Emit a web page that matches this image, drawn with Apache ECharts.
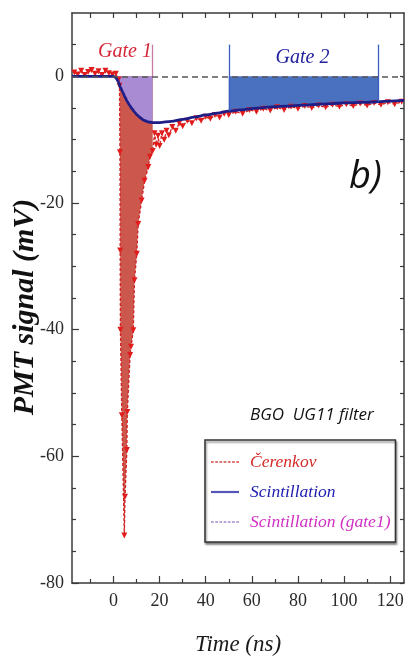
<!DOCTYPE html>
<html>
<head>
<meta charset="utf-8">
<script src="https://cdn.jsdelivr.net/npm/echarts@6/dist/echarts.min.js"></script>
<style>
  html, body { margin: 0; padding: 0; background: #ffffff; }
  #chart { width: 405px; height: 665px; }
</style>
</head>
<body>
<div id="chart"></div>
<script>
// ---- PMT waveform, BGO crystal with UG11 filter ----

// Čerenkov trace (time in ns, signal in mV)
const cerX = [-17, -15.5, -14, -12.5, -11, -9.5, -8, -6.5, -5, -3.5, -2, -0.5, 1, 2.2,
  2.6, 2.8, 2.9, 3.0, 3.6, 4.7, 5.0, 5.8, 6.0, 7.2, 7.6, 8.6, 9.1, 10.1, 10.7, 12.2, 13.5, 15.1, 15.8, 17.0,
  17.8, 18.5, 19.3, 20.0, 21.0, 22.0, 23.0, 24.0, 25.5, 27.0, 28.5, 30.0, 32, 34, 36, 38, 40, 42, 44, 46, 48,
  50, 53, 56, 59, 62, 65, 68, 71, 74, 77, 80, 83, 86, 89, 92, 95, 98, 101, 104, 107, 110, 113, 116, 119, 122, 125];
const cerY = [0.6, 0.3, 0.9, 0.2, 0.7, 1.0, 0.4, 0.8, 0.2, 0.9, 0.5, 0.3, 0.4, -0.5,
  -1.5, -12, -27.5, -40, -53.5, -72.5, -66.4, -59, -53, -44, -42.7, -40.1, -32.2, -28, -23.3, -19.6, -16.5, -14.3, -12.7, -11.8,
  -9.0, -10.8, -9.4, -11.0, -9.0, -10.0, -8.6, -9.3, -8.0, -8.6, -7.4, -7.9, -7.0, -7.4, -6.6, -7.0, -6.4, -6.7, -6.1, -6.5, -5.9,
  -6.1, -5.6, -5.9, -5.3, -5.6, -5.1, -5.4, -4.9, -5.3, -4.8, -5.1, -4.7, -5.0, -4.6, -4.9, -4.5, -4.8, -4.4, -4.7, -4.3, -4.6, -4.2, -4.5, -4.1, -4.4, -4.0];

// Scintillation component
const scintX = [-18, 0, 1, 2, 3, 4, 5, 6, 7, 8, 9, 10, 11, 12, 13, 14, 15, 16, 17, 18, 20, 25, 30, 35, 40, 45,
  50, 55, 60, 65, 70, 75, 80, 85, 90, 95, 100, 105, 110, 115, 120, 126];
const scintY = [0, 0, -0.2, -0.8, -1.7, -2.5, -3.3, -4.0, -4.6, -5.1, -5.6, -6.0, -6.35, -6.65, -6.9, -7.05, -7.2, -7.25, -7.3, -7.3, -7.3, -7.1, -6.8, -6.45, -6.1, -5.8,
  -5.5, -5.3, -5.1, -4.95, -4.8, -4.7, -4.6, -4.5, -4.4, -4.3, -4.2, -4.15, -4.1, -4.0, -3.9, -3.8];

// Integration gates (ns) and the height of their marker lines (mV)
const gate1 = [0, 17];
const gate2 = [50, 115];
const gateTop = 5;

// Axis ranges and tick values
const xRange = [-18, 126];
const yRange = [-80, 10];
const xMajorTicks = [0, 20, 40, 60, 80, 100, 120];
const xMinorTicks = [-10, 10, 30, 50, 70, 90, 110];
const yMajorTicks = [-80, -60, -40, -20, 0];
const yMinorTicks = [-75, -70, -65, -55, -50, -45, -35, -30, -25, -15, -10, -5, 5];

// ---- build series data ----
const cerData = cerX.map((x, i) => [x, cerY[i]]);
const scintData = scintX.map((x, i) => [x, scintY[i]]);
const inGate = (g) => (p) => p[0] >= g[0] && p[0] <= g[1];
const cerGate1 = cerData.filter(inGate(gate1)).map(p => [p[0], Math.min(p[1], 0)]);
const scintGate1 = scintData.filter(inGate(gate1));
const scintGate2 = scintData.filter(inGate(gate2));
const scintAt = (x) => scintY[scintX.indexOf(x)];

const AXIS = '#3a3a3a';
const SERIF = '"Liberation Serif", "Times New Roman", serif';

function dotted(n) {
  let d = 'path://';
  for (let i = 0; i < n; i++) d += 'M' + (i * 4) + ',0h2.6v1.6h-2.6z';
  return d;
}
const dottedIcon = dotted(7);
const solidIcon = 'path://M0,0h28v2.2h-28z';

const tickStyle = { color: AXIS, width: 1.2 };
const baseX = { type: 'value', min: xRange[0], max: xRange[1], splitLine: { show: false } };
const baseY = { type: 'value', min: yRange[0], max: yRange[1], splitLine: { show: false } };

const chart = echarts.init(document.getElementById('chart'), null, { renderer: 'canvas' });

chart.setOption({
  animation: false,
  backgroundColor: '#ffffff',
  grid: { left: 72, right: 1, top: 13, bottom: 82, containLabel: false, outerBoundsMode: 'none' },
  xAxis: [
    Object.assign({}, baseX, {
      position: 'bottom',
      axisLine: { show: true, onZero: false, lineStyle: { color: AXIS, width: 1.5 } },
      axisTick: { show: true, inside: true, length: 7, customValues: xMajorTicks, lineStyle: tickStyle },
      axisLabel: { show: true, customValues: xMajorTicks, margin: 9, color: '#2a2a2a', fontFamily: SERIF, fontSize: 18 },
      name: 'Time (ns)', nameLocation: 'middle', nameGap: 50, nameMoveOverlap: false,
      nameTextStyle: { color: '#1a1a1a', fontFamily: SERIF, fontStyle: 'italic', fontSize: 23 }
    }),
    Object.assign({}, baseX, {
      position: 'bottom',
      axisLine: { show: false, onZero: false },
      axisTick: { show: true, inside: true, length: 4, customValues: xMinorTicks, lineStyle: tickStyle },
      axisLabel: { show: false }
    }),
    Object.assign({}, baseX, {
      position: 'top',
      axisLine: { show: true, onZero: false, lineStyle: { color: AXIS, width: 1.5 } },
      axisTick: { show: true, inside: true, length: 5, customValues: xMajorTicks.concat(xMinorTicks), lineStyle: tickStyle },
      axisLabel: { show: false }
    })
  ],
  yAxis: [
    Object.assign({}, baseY, {
      position: 'left',
      axisLine: { show: true, onZero: false, lineStyle: { color: AXIS, width: 1.5 } },
      axisTick: { show: true, inside: true, length: 7, customValues: yMajorTicks, lineStyle: tickStyle },
      axisLabel: { show: true, customValues: yMajorTicks, margin: 8, color: '#2a2a2a', fontFamily: SERIF, fontSize: 18 },
      name: 'PMT signal (mV)', nameLocation: 'middle', nameGap: 32, nameMoveOverlap: false,
      nameTextStyle: { color: '#111111', fontFamily: SERIF, fontStyle: 'italic', fontWeight: 'bold', fontSize: 30, padding: [0, 18, 0, 0] }
    }),
    Object.assign({}, baseY, {
      position: 'left',
      axisLine: { show: false, onZero: false },
      axisTick: { show: true, inside: true, length: 4, customValues: yMinorTicks, lineStyle: tickStyle },
      axisLabel: { show: false }
    }),
    Object.assign({}, baseY, {
      position: 'right',
      axisLine: { show: true, onZero: false, lineStyle: { color: AXIS, width: 1.5 } },
      axisTick: { show: true, inside: true, length: 4, customValues: yMajorTicks.concat(yMinorTicks), lineStyle: tickStyle },
      axisLabel: { show: false }
    })
  ],
  legend: {
    orient: 'vertical',
    left: 205, top: 440,
    selectedMode: false,
    data: [
      { name: 'Čerenkov', icon: dottedIcon, itemStyle: { color: '#d84a4a' }, textStyle: { color: '#d42a2a' } },
      { name: 'Scintillation', icon: solidIcon, itemStyle: { color: '#5656b6' }, textStyle: { color: '#1c1cb0' } },
      { name: 'Scintillation (gate1)', icon: dottedIcon, itemStyle: { color: '#a48cce' }, textStyle: { color: '#d030c4' } }
    ],
    itemWidth: 28, itemHeight: 3, itemGap: 12,
    textStyle: { fontFamily: SERIF, fontStyle: 'italic', fontSize: 17.5, padding: [0, 0, 0, 6] },
    backgroundColor: '#ffffff',
    borderColor: '#333333', borderWidth: 1.5, borderRadius: 0,
    padding: [13, 5, 11, 6],
    shadowColor: 'rgba(0,0,0,0.45)', shadowBlur: 2, shadowOffsetX: 1, shadowOffsetY: 2
  },
  graphic: [
    { type: 'text', left: 349, top: 158, silent: true,
      style: { text: 'b)', fill: '#111111', font: 'italic 38px "Open Sans", "DejaVu Sans", sans-serif' } },
    { type: 'text', left: 250, top: 407, silent: true,
      style: { text: 'BGO  UG11 filter', fill: '#111111', font: 'italic 17px "Liberation Sans Narrow", "Open Sans", sans-serif' } }
  ],
  series: [
    {
      // Čerenkov light collected in gate 1
      name: 'Čerenkov area', type: 'line', z: 1, data: cerGate1,
      showSymbol: false, symbol: 'none',
      lineStyle: { width: 0 },
      areaStyle: { color: '#cc574d', opacity: 1, origin: 0 },
      silent: true
    },
    {
      name: 'Scintillation (gate1)', type: 'line', z: 2, data: scintGate1,
      smooth: 0.3, smoothMonotone: 'x',
      showSymbol: false, symbol: 'none',
      itemStyle: { color: '#a48cce' },
      lineStyle: { width: 0 },
      areaStyle: { color: '#a98bd4', opacity: 1, origin: 0 },
      silent: true
    },
    {
      name: 'Gate 2 area', type: 'line', z: 2, data: scintGate2,
      smooth: 0.3, smoothMonotone: 'x',
      showSymbol: false, symbol: 'none',
      lineStyle: { width: 0 },
      areaStyle: { color: '#4a70c0', opacity: 1, origin: 0 },
      silent: true,
      markLine: {
        silent: true, symbol: 'none', label: { show: false },
        data: [
          [{ coord: [gate1[1], 0], lineStyle: { color: '#c87aa2', width: 1.3, type: 'solid' } }, { coord: [gate1[1], gateTop] }],
          [{ coord: [gate2[0], scintAt(gate2[0])], lineStyle: { color: '#3d5cc0', width: 1.3, type: 'solid' } }, { coord: [gate2[0], gateTop] }],
          [{ coord: [gate2[1], scintAt(gate2[1])], lineStyle: { color: '#3d5cc0', width: 1.3, type: 'solid' } }, { coord: [gate2[1], gateTop] }]
        ]
      },
      markPoint: {
        silent: true, symbol: 'circle', symbolSize: 0,
        data: [
          { name: 'Gate 1', coord: [5.0, 3.9],
            label: { show: true, position: 'inside', formatter: 'Gate 1', color: '#d42838', fontFamily: SERIF, fontStyle: 'italic', fontSize: 20 } },
          { name: 'Gate 2', coord: [82, 2.9],
            label: { show: true, position: 'inside', formatter: 'Gate 2', color: '#22229e', fontFamily: SERIF, fontStyle: 'italic', fontSize: 20 } }
        ]
      }
    },
    {
      name: 'Čerenkov', type: 'line', z: 3, data: cerData,
      symbol: 'triangle', symbolRotate: 180, symbolSize: 6, showSymbol: true,
      itemStyle: { color: '#e01c1c' },
      lineStyle: { color: '#d42020', width: 1.3, type: [3, 2] },
      markLine: {
        silent: true, symbol: 'none', label: { show: false },
        lineStyle: { color: '#555555', width: 1.5, type: [6, 4] },
        data: [{ yAxis: 0 }]
      }
    },
    {
      name: 'Scintillation', type: 'line', z: 4, data: scintData,
      smooth: 0.3, smoothMonotone: 'x',
      showSymbol: false, symbol: 'none',
      itemStyle: { color: '#5656b6' },
      lineStyle: { color: '#1e1e86', width: 2.8 }
    }
  ]
});
</script>
</body>
</html>
